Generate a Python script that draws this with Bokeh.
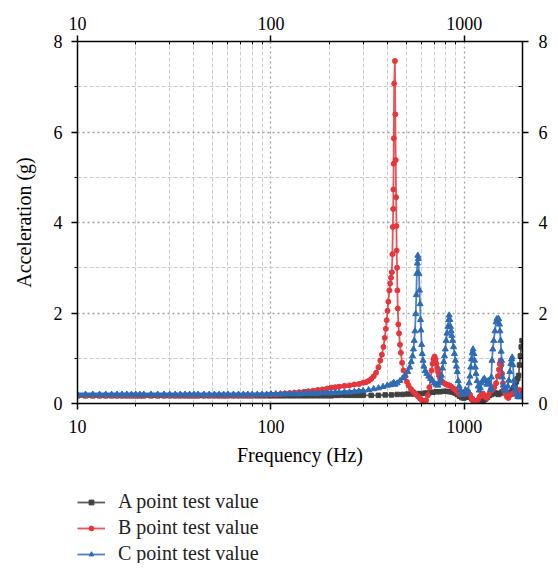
from bokeh.plotting import figure
from bokeh.layouts import column
from bokeh.models import (LogAxis, LinearAxis, FixedTicker, Legend, LegendItem,
                          PrintfTickFormatter, ColumnDataSource, Range1d)
from bokeh.embed import file_html
from bokeh.resources import INLINE

# ---------------- data ----------------
X_TICKS = [10, 100, 1000]
X_MINOR = [20, 30, 40, 50, 60, 70, 80, 90, 200, 300, 400, 500, 600, 700, 800, 900, 2000]
Y_TICKS = [0, 2, 4, 6, 8]
Y_MINOR = [1, 3, 5, 7]

SERIES_NAMES = ["A point test value", "B point test value", "C point test value"]

# low-frequency part (shared frequencies, Hz)
LOW_FREQ = [10, 11, 12, 13, 14, 15, 16, 17, 18, 19,
            20, 21, 22, 24, 26, 28, 30, 32, 34, 36,
            38, 40, 42, 45, 48, 51, 54, 57, 60, 64,
            68, 72, 76, 80, 85, 90, 95, 100, 106, 112,
            118, 125, 132, 140, 148, 156, 165, 175, 185, 195,
            205, 215, 225, 240, 255, 270, 285]

A_LOW = [0.17, 0.17, 0.17, 0.17, 0.17, 0.17, 0.17, 0.17, 0.17, 0.17,
         0.17, 0.17, 0.17, 0.17, 0.17, 0.17, 0.17, 0.17, 0.17, 0.17,
         0.17, 0.17, 0.17, 0.17, 0.17, 0.17, 0.17, 0.17, 0.17, 0.17,
         0.17, 0.17, 0.17, 0.17, 0.17, 0.17, 0.17, 0.17, 0.17, 0.17,
         0.17, 0.17, 0.17, 0.17, 0.17, 0.17, 0.17, 0.17, 0.17, 0.17,
         0.17, 0.18, 0.18, 0.18, 0.18, 0.18, 0.18]

B_LOW = [0.18, 0.18, 0.18, 0.18, 0.18, 0.18, 0.18, 0.18, 0.18, 0.18,
         0.18, 0.18, 0.18, 0.18, 0.18, 0.18, 0.18, 0.18, 0.18, 0.18,
         0.18, 0.18, 0.18, 0.18, 0.18, 0.18, 0.18, 0.18, 0.18, 0.18,
         0.18, 0.18, 0.18, 0.18, 0.19, 0.19, 0.19, 0.20, 0.20, 0.21,
         0.22, 0.23, 0.24, 0.25, 0.26, 0.27, 0.28, 0.30, 0.31, 0.33,
         0.35, 0.36, 0.37, 0.39, 0.40, 0.42, 0.43]

C_LOW = [0.20, 0.20, 0.20, 0.20, 0.20, 0.20, 0.20, 0.20, 0.20, 0.20,
         0.20, 0.20, 0.20, 0.20, 0.20, 0.20, 0.20, 0.20, 0.20, 0.20,
         0.20, 0.20, 0.20, 0.20, 0.20, 0.20, 0.20, 0.20, 0.20, 0.20,
         0.20, 0.20, 0.20, 0.20, 0.20, 0.20, 0.20, 0.21, 0.21, 0.21,
         0.21, 0.21, 0.21, 0.21, 0.22, 0.22, 0.22, 0.22, 0.23, 0.23,
         0.23, 0.24, 0.24, 0.25, 0.25, 0.26, 0.27]

# higher-frequency part: (frequency Hz, acceleration g)
A_HIGH = [(300, 0.18), (330, 0.18), (360, 0.18), (390, 0.19), (420, 0.19), (450, 0.20),
          (480, 0.20), (510, 0.21), (540, 0.21), (570, 0.22), (600, 0.22), (630, 0.23),
          (660, 0.24), (690, 0.25), (720, 0.26), (750, 0.26), (780, 0.27), (810, 0.27),
          (840, 0.26), (870, 0.25), (895, 0.23), (920, 0.20), (945, 0.16), (970, 0.13),
          (995, 0.12), (1020, 0.14), (1045, 0.16), (1070, 0.14), (1095, 0.10), (1120, 0.06),
          (1145, 0.03), (1170, 0.02), (1200, 0.03), (1230, 0.05), (1260, 0.07), (1290, 0.10),
          (1320, 0.14), (1350, 0.18), (1380, 0.20), (1410, 0.22), (1440, 0.24), (1470, 0.22),
          (1500, 0.20), (1530, 0.22), (1560, 0.25), (1590, 0.27), (1620, 0.25), (1650, 0.22),
          (1680, 0.20), (1710, 0.22), (1740, 0.25), (1770, 0.30), (1800, 0.35), (1830, 0.40),
          (1860, 0.48), (1890, 0.55), (1910, 0.62), (1930, 0.85), (1950, 1.05), (1970, 1.25),
          (1990, 1.39)]

B_HIGH = [(300, 0.46), (310, 0.47), (320, 0.50), (330, 0.54), (340, 0.60), (350, 0.68),
          (360, 0.80), (368, 0.95), (375, 1.08), (382, 1.25), (388, 1.45), (393, 1.65),
          (397, 1.84), (401, 2.05), (405, 2.25), (410, 2.50), (414, 2.65), (418, 2.78),
          (422, 2.90), (425, 3.30), (427, 3.90), (429, 4.30), (430, 4.73), (431, 5.30),
          (432, 5.86), (434, 7.07), (438, 7.57), (440, 6.39), (442, 5.38), (444, 4.56),
          (446, 3.92), (447, 3.38), (449, 3.00), (451, 2.50), (453, 2.10), (456, 1.75),
          (460, 1.55), (465, 1.30), (470, 1.12), (477, 0.90), (485, 0.73), (495, 0.60),
          (505, 0.48), (515, 0.40), (530, 0.32), (545, 0.26), (560, 0.21), (575, 0.16),
          (590, 0.11), (605, 0.07), (620, 0.05), (635, 0.07), (648, 0.18), (660, 0.36),
          (670, 0.55), (677, 0.73), (685, 0.88), (693, 0.98), (702, 1.04), (710, 0.98),
          (718, 0.88), (725, 0.78), (732, 0.70), (740, 0.62), (750, 0.56), (765, 0.50),
          (780, 0.46), (800, 0.43), (820, 0.41), (840, 0.40), (860, 0.37), (880, 0.33),
          (905, 0.29), (930, 0.23), (955, 0.20), (980, 0.22), (1000, 0.25), (1020, 0.22),
          (1045, 0.27), (1070, 0.20), (1090, 0.12), (1110, 0.06), (1130, 0.04), (1150, 0.05),
          (1175, 0.08), (1200, 0.15), (1225, 0.20), (1250, 0.22), (1280, 0.15), (1310, 0.12),
          (1340, 0.20), (1370, 0.28), (1400, 0.30), (1430, 0.36), (1460, 0.45), (1490, 0.60),
          (1510, 0.75), (1525, 0.88), (1540, 0.95), (1555, 0.85), (1570, 0.66), (1585, 0.45),
          (1600, 0.30), (1630, 0.22), (1660, 0.15), (1690, 0.12), (1720, 0.18), (1750, 0.20),
          (1780, 0.22), (1810, 0.25), (1840, 0.22), (1870, 0.25), (1900, 0.29), (1930, 0.30),
          (1960, 0.28), (1990, 0.26)]

C_HIGH = [(300, 0.28), (320, 0.30), (340, 0.32), (360, 0.34), (380, 0.37), (400, 0.40),
          (415, 0.41), (425, 0.43), (432, 0.46), (438, 0.42), (450, 0.45), (465, 0.50),
          (480, 0.56), (495, 0.62), (510, 0.70), (522, 0.80), (532, 0.92), (540, 1.05),
          (546, 1.20), (551, 1.39), (556, 1.60), (561, 1.98), (565, 2.40), (568, 2.87),
          (572, 3.10), (575, 3.27), (579, 3.20), (583, 2.87), (587, 2.50), (591, 2.20),
          (594, 1.85), (597, 1.62), (602, 1.30), (606, 1.10), (612, 0.95), (618, 0.82),
          (628, 0.72), (640, 0.66), (655, 0.60), (670, 0.55), (685, 0.50), (700, 0.45),
          (715, 0.42), (730, 0.40), (742, 0.45), (752, 0.52), (762, 0.62), (772, 0.78),
          (782, 0.92), (790, 1.05), (798, 1.20), (806, 1.39), (814, 1.55), (822, 1.70),
          (830, 1.85), (836, 1.95), (842, 1.85), (848, 1.70), (855, 1.60), (862, 1.50),
          (870, 1.39), (880, 1.25), (890, 1.10), (900, 0.95), (910, 0.82), (920, 0.70),
          (930, 0.50), (940, 0.38), (955, 0.30), (970, 0.22), (985, 0.20), (1000, 0.24),
          (1015, 0.30), (1030, 0.22), (1045, 0.28), (1060, 0.45), (1070, 0.60), (1080, 0.80),
          (1090, 0.98), (1100, 1.12), (1110, 1.20), (1120, 1.10), (1130, 0.95), (1140, 0.80),
          (1150, 0.66), (1165, 0.50), (1180, 0.38), (1195, 0.29), (1210, 0.35), (1230, 0.45),
          (1250, 0.52), (1270, 0.55), (1290, 0.50), (1310, 0.42), (1330, 0.50), (1350, 0.45),
          (1365, 0.30), (1375, 0.35), (1380, 0.58), (1390, 0.95), (1405, 1.20), (1420, 1.39),
          (1440, 1.60), (1460, 1.80), (1475, 1.87), (1490, 1.82), (1505, 1.87), (1520, 1.75),
          (1530, 1.60), (1542, 1.39), (1552, 1.15), (1560, 0.95), (1575, 0.58), (1590, 0.40),
          (1605, 0.29), (1630, 0.30), (1655, 0.28), (1680, 0.38), (1700, 0.51), (1720, 0.70),
          (1740, 0.88), (1755, 0.98), (1769, 1.02), (1785, 0.85), (1805, 0.51), (1820, 0.38),
          (1840, 0.29), (1860, 0.20), (1890, 0.15), (1920, 0.14), (1950, 0.17), (1975, 0.20),
          (2000, 0.18)]

COLORS = ["#404040", "#e8353b", "#2d6cb5"]
MARKERS = ["square", "circle", "triangle"]
MSIZES = [4.5, 5, 6]

FONT = "Liberation Serif"

# ---------------- main figure ----------------
p = figure(width=550, height=472, x_axis_type="log", x_range=(10, 2000), y_range=(0, 8),
           output_backend="svg", toolbar_location=None,
           min_border_left=77, min_border_right=23, min_border_top=41, min_border_bottom=69,
           x_axis_label="Frequency (Hz)", y_axis_label="Acceleration (g)")
p.outline_line_color = None
p.background_fill_color = "white"
p.border_fill_color = "white"

xt = FixedTicker(ticks=X_TICKS, minor_ticks=X_MINOR)
yt = FixedTicker(ticks=Y_TICKS, minor_ticks=Y_MINOR)

bottom = p.below[0]
left = p.left[0]
bottom.ticker = xt
bottom.formatter = PrintfTickFormatter(format="%d")
left.ticker = yt

top = LogAxis(ticker=xt, formatter=PrintfTickFormatter(format="%d"))
right = LinearAxis(ticker=yt)
p.add_layout(top, "above")
p.add_layout(right, "right")

for ax in [bottom, left, top, right]:
    ax.axis_line_color = "black"
    ax.axis_line_width = 1.5
    ax.major_tick_line_color = "black"
    ax.major_tick_line_width = 1.5
    ax.minor_tick_line_color = "black"
    ax.minor_tick_line_width = 1
    ax.major_label_text_font = FONT
    ax.major_label_text_font_size = "18px"
    ax.major_label_text_color = "black"
    ax.axis_label_text_font = FONT
    ax.axis_label_text_font_size = "20px"
    ax.axis_label_text_font_style = "normal"
    ax.axis_label_text_color = "black"
    ax.major_tick_out = 6
    ax.major_tick_in = 0

bottom.minor_tick_out = 3
bottom.minor_tick_in = 0
bottom.major_label_standoff = 10
bottom.axis_label_standoff = 8
left.minor_tick_out = 3
left.minor_tick_in = 0
left.major_label_standoff = 9
left.axis_label_standoff = 16
top.minor_tick_out = 0
top.minor_tick_in = 3
top.major_label_standoff = 6
right.minor_tick_out = 0
right.minor_tick_in = 4
right.major_label_standoff = 10

for g, t in [(p.xgrid[0], xt), (p.ygrid[0], yt)]:
    g.ticker = t
    g.grid_line_color = "#a0a0a0"
    g.grid_line_dash = "2 3"
    g.grid_line_width = 1.3
    g.minor_grid_line_color = "#cccccc"
    g.minor_grid_line_dash = "4 2"
    g.minor_grid_line_width = 1

# ---------------- legend strip (below the chart) ----------------
lf = figure(width=550, height=91, x_range=Range1d(-10, -9), y_range=Range1d(-10, -9),
            output_backend="svg", toolbar_location=None,
            min_border=0, min_border_left=0, min_border_right=0,
            min_border_top=0, min_border_bottom=0)
lf.axis.visible = False
lf.grid.visible = False
lf.outline_line_color = None
lf.background_fill_color = "white"
lf.border_fill_color = "white"

# ---------------- series ----------------
lows = [A_LOW, B_LOW, C_LOW]
highs = [A_HIGH, B_HIGH, C_HIGH]
n_low = len(LOW_FREQ)
items = []
for name, low, high, col, mk, ms in zip(SERIES_NAMES, lows, highs, COLORS, MARKERS, MSIZES):
    freq = LOW_FREQ + [h[0] for h in high]
    vals = low + [h[1] for h in high]
    src = ColumnDataSource(dict(f=freq, v=vals))
    band_src = ColumnDataSource(dict(f=freq[:n_low + 1], v=vals[:n_low + 1]))
    p.line("f", "v", source=band_src, line_width=4, color=col)
    p.line("f", "v", source=src, line_width=1.8, color=col, alpha=0.85)
    p.scatter("f", "v", source=src, marker=mk, size=ms, color=col)
    # legend samples (same data, outside the strip's visible range)
    ln = lf.line("f", "v", source=src, line_width=1.8, color=col, alpha=0.85)
    sc = lf.scatter("f", "v", source=src, marker=mk, size=ms - 1, color=col)
    items.append(LegendItem(label=name, renderers=[ln, sc]))

legend = Legend(items=items, location=(0, -2), orientation="vertical",
                glyph_width=28, glyph_height=12, label_height=12, label_standoff=13,
                spacing=3, padding=0, margin=0, border_line_color=None,
                background_fill_alpha=0, label_text_font=FONT,
                label_text_font_size="20px", label_text_color="#222222")
lf.add_layout(legend, "center")

layout = column(p, lf, spacing=0)
open("out.html", "w").write(file_html(layout, INLINE))
